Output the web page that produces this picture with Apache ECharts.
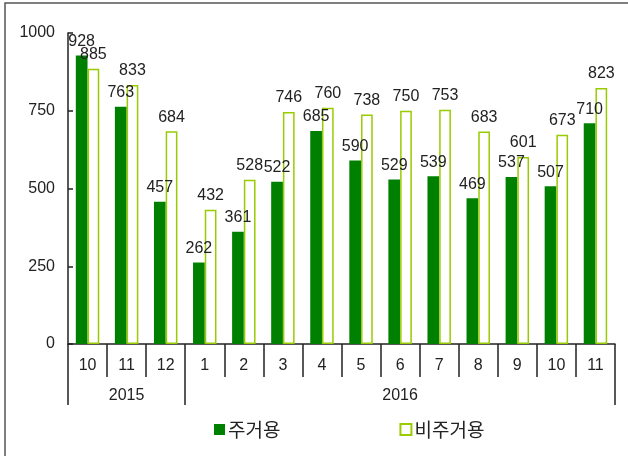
<!DOCTYPE html>
<html>
<head>
    <meta charset="utf-8">
    <title>주거용 / 비주거용</title>
    <script src="https://cdn.jsdelivr.net/npm/echarts@6/dist/echarts.min.js"></script>
    <style>
        html, body { margin: 0; padding: 0; background: #fff; }
    </style>
</head>
<body>
    <div id="main" style="width: 628px;height:456px;"></div>
    <script type="text/javascript">
        // 데이터
        var months = ['10', '11', '12', '1', '2', '3', '4', '5', '6', '7', '8', '9', '10', '11'];
        var years = ['2015', '2016'];
        var yearLabelIndex = [1, 8];      // 연도 라벨이 놓이는 카테고리
        var yearStartIndex = [0, 3];      // 연도 구분선이 시작되는 카테고리
        var residential = [928, 763, 457, 262, 361, 522, 685, 590, 529, 539, 469, 537, 507, 710];
        var nonResidential = [885, 833, 684, 432, 528, 746, 760, 738, 750, 753, 683, 601, 673, 823];
        var yTicks = [0, 250, 500, 750, 1000];

        var numFont = "'Liberation Sans', Arial, sans-serif";
        var krFont = "'Noto Sans CJK KR', sans-serif";

        var myChart = echarts.init(document.getElementById('main'));

        var option = {
            animation: false,
            backgroundColor: '#fff',
            graphic: [{
                type: 'rect',
                shape: { x: 5, y: 3, width: 700, height: 500 },
                style: { fill: 'none', stroke: '#555', lineWidth: 1.5 },
                silent: true
            }],
            grid: {
                left: 68,
                right: 13,
                top: 33,
                bottom: 112
            },
            legend: {
                data: ['주거용', '비주거용'],
                left: 214,
                top: 420,
                padding: 0,
                itemWidth: 11,
                itemHeight: 11,
                itemGap: 119,
                icon: 'rect',
                textStyle: { fontFamily: krFont, fontSize: 19, color: '#222', padding: [0, 0, 0, -2] }
            },
            xAxis: [{
                type: 'category',
                data: months,
                axisLine: { lineStyle: { color: '#222', width: 1.5 } },
                axisTick: { show: true, interval: 0, length: 33, lineStyle: { color: '#222', width: 1.5 } },
                axisLabel: { interval: 0, margin: 14, fontFamily: numFont, fontSize: 16, color: '#222' }
            }, {
                type: 'category',
                data: months,
                position: 'bottom',
                axisLine: { show: false },
                axisTick: {
                    show: true,
                    length: 61,
                    interval: function (index) { return yearStartIndex.indexOf(index) >= 0; },
                    lineStyle: { color: '#222', width: 1.5 }
                },
                axisLabel: {
                    interval: function (index) { return yearLabelIndex.indexOf(index) >= 0; },
                    formatter: function (value, index) {
                        var k = yearLabelIndex.indexOf(index);
                        return k >= 0 ? years[k] : '';
                    },
                    margin: 44,
                    fontFamily: numFont,
                    fontSize: 16,
                    color: '#222'
                }
            }],
            yAxis: {
                type: 'value',
                min: yTicks[0],
                max: yTicks[yTicks.length - 1],
                interval: yTicks[1] - yTicks[0],
                splitLine: { show: false },
                axisLine: { show: true, lineStyle: { color: '#222', width: 1.5 } },
                axisTick: { show: true, inside: true, length: 5, lineStyle: { color: '#222', width: 1.5 } },
                axisLabel: {
                    margin: 13,
                    formatter: function (v) { return String(v); },
                    fontFamily: numFont,
                    fontSize: 16,
                    color: '#222'
                }
            },
            series: [{
                name: '주거용',
                type: 'bar',
                data: residential,
                barGap: '0%',
                barCategoryGap: '40%',
                itemStyle: { color: '#008000' },
                label: {
                    show: true,
                    position: 'top',
                    distance: 6,
                    fontFamily: numFont,
                    fontSize: 16,
                    color: '#222'
                }
            }, {
                name: '비주거용',
                type: 'bar',
                data: nonResidential,
                barGap: '0%',
                barCategoryGap: '40%',
                itemStyle: { color: '#fff', borderColor: '#99cc00', borderWidth: 1.5 },
                label: {
                    show: true,
                    position: 'top',
                    distance: 6,
                    fontFamily: numFont,
                    fontSize: 16,
                    color: '#222'
                }
            }]
        };

        myChart.setOption(option);
    </script>
</body>
</html>
